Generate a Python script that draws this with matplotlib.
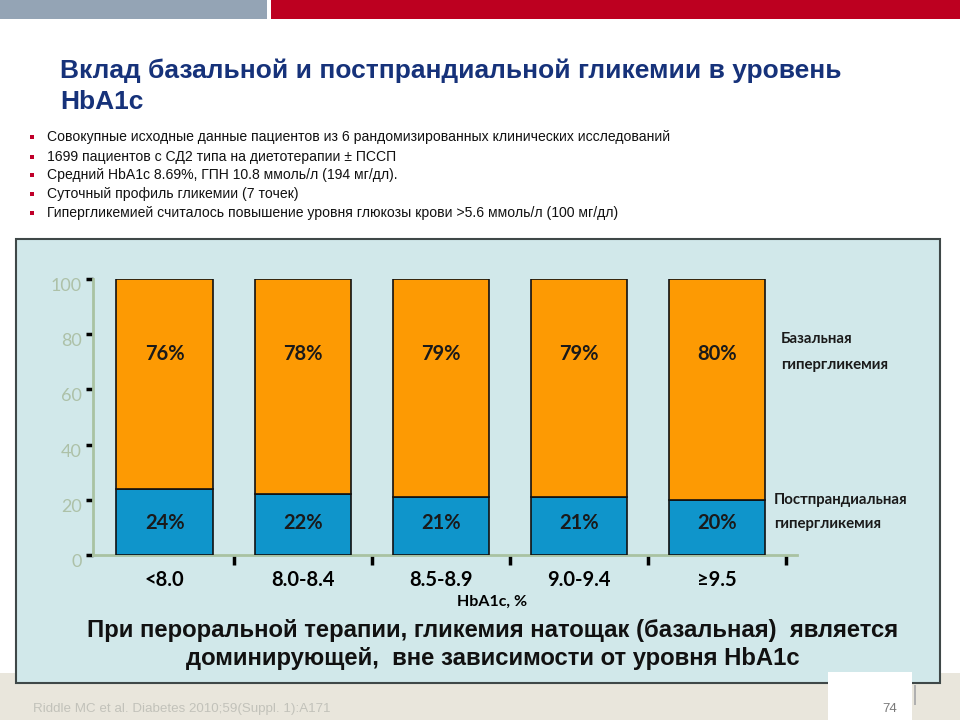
import matplotlib
matplotlib.use("Agg")
import matplotlib.pyplot as plt
from matplotlib.patches import Rectangle
from matplotlib.ticker import FixedLocator
from matplotlib.transforms import ScaledTranslation

SANS = 'Liberation Sans'
CAL = 'Lato'

# ---- data ----
categories = ['<8.0', '8.0-8.4', '8.5-8.9', '9.0-9.4', '≥9.5']
postprandial = [24, 22, 21, 21, 20]
basal = [76, 78, 79, 79, 80]
yticks = [0, 20, 40, 60, 80, 100]

title = "Вклад базальной и постпрандиальной гликемии в уровень\nHbA1c"
bullets = [
    "Совокупные исходные данные пациентов из 6 рандомизированных клинических исследований",
    "1699 пациентов с СД2 типа на диетотерапии ± ПССП",
    "Средний HbA1c 8.69%, ГПН 10.8 ммоль/л (194 мг/дл).",
    "Суточный профиль гликемии (7 точек)",
    "Гипергликемией считалось повышение уровня глюкозы крови >5.6 ммоль/л (100 мг/дл)",
]
conclusion = ["При пероральной терапии, гликемия натощак (базальная)  является",
              "доминирующей,  вне зависимости от уровня HbA1c"]
footer = "Riddle MC et al. Diabetes 2010;59(Suppl. 1):A171"
page = "74"

W, H = 960, 720
fig = plt.figure(figsize=(9.6, 7.2), dpi=100)
fig.patch.set_facecolor('white')

def fx(x): return x / W
def fy(y): return 1 - y / H

def frect(x0, y0, x1, y1, **kw):
    fig.patches.append(Rectangle((fx(x0), fy(y1)), fx(x1) - fx(x0), (y1 - y0) / H,
                                 transform=fig.transFigure, figure=fig, **kw))

# top bands
frect(0, 0, 267, 19, facecolor='#94a4b5', edgecolor='none')
frect(271, 0, 960, 19, facecolor='#bd0020', edgecolor='none')
# footer band
frect(0, 673, 960, 720, facecolor='#e9e6dc', edgecolor='none')
# chart box
frect(16, 239, 940, 683, facecolor='#d1e8ea', edgecolor='#3f4848', linewidth=1.5)
# white tab at bottom right
frect(828, 672, 912, 720, facecolor='white', edgecolor='none')
frect(914, 685, 916, 705, facecolor='#b0b0b0', edgecolor='none')

# title
fig.text(fx(60), fy(86), title, ha='left', va='center', fontsize=19, fontweight='bold',
         color='#16327a', family=SANS, linespacing=1.35)

# bullets
by = [137, 157, 175, 194, 213]
for y, t in zip(by, bullets):
    frect(30, y - 2, 34, y + 2, facecolor='#c0002a', edgecolor='none')
    fig.text(fx(47), fy(y), t, ha='left', va='center', fontsize=10.1, color='#111111',
             family=SANS)

# axes
ax = fig.add_axes([fx(93), fy(555), (797 - 93) / W, (555 - 279) / H])
ax.set_zorder(5)
ax.set_facecolor('none')
x = list(range(len(categories)))
ax.bar(x, postprandial, width=0.70, color='#0f95cb', edgecolor='#111111', linewidth=1.2, zorder=3)
ax.bar(x, basal, width=0.70, bottom=postprandial, color='#fd9a03', edgecolor='#111111', linewidth=1.2, zorder=3)
ax.set_ylim(0, 100)
ax.set_xlim(-0.52, 4.58)

for s in ['top', 'right']:
    ax.spines[s].set_visible(False)
for s in ['left', 'bottom']:
    ax.spines[s].set_color('#a9c2a2')
    ax.spines[s].set_linewidth(2)

ax.set_yticks(yticks)
ax.set_yticklabels([str(v) for v in yticks])
ax.tick_params(axis='y', direction='out', length=5, width=2.5, color='black',
               labelsize=13, labelcolor='#adc1a8', pad=3)
offset = ScaledTranslation(0, -4 / 72, fig.dpi_scale_trans)
for lab in ax.get_yticklabels():
    lab.set_family(CAL)
    lab.set_transform(lab.get_transform() + offset)

ax.set_xticks(x)
ax.set_xticklabels(categories)
ax.tick_params(axis='x', which='major', length=0, labelsize=14.5, pad=11)
for lab in ax.get_xticklabels():
    lab.set_family(CAL)
    lab.set_fontweight('bold')
ax.xaxis.set_minor_locator(FixedLocator([i + 0.5 for i in x]))
ax.tick_params(axis='x', which='minor', direction='out', length=7, width=2.5, color='black')

ax.set_xlabel('HbA1c, %', fontsize=11.5, fontweight='bold', family=CAL)
ax.xaxis.set_label_coords((492 - 93) / 704, -(595 - 555) / 276)

label_y_basal = 73
label_y_post = 11.5
for i in x:
    ax.text(i, label_y_basal, f"{basal[i]}%", ha='center', va='center',
            fontsize=14.5, fontweight='bold', color='#1a1a1a', family=CAL, zorder=4)
    ax.text(i, label_y_post, f"{postprandial[i]}%", ha='center', va='center',
            fontsize=14.5, fontweight='bold', color='#1a1a1a', family=CAL, zorder=4)

# side labels
for (xx, yy, t) in [(781, 339, 'Базальная'), (781, 365, 'гипергликемия'),
                    (774, 500, 'Постпрандиальная'), (774, 524, 'гипергликемия')]:
    fig.text(fx(xx), fy(yy), t, ha='left', va='center', fontsize=10.8, fontweight='bold',
             color='#1a1a1a', family=CAL)

# conclusion
for yy, t in zip([631, 658], conclusion):
    fig.text(fx(493), fy(yy), t, ha='center', va='center', fontsize=17.2, fontweight='bold',
             color='#111111', family=SANS)

# footer
fig.text(fx(33), fy(709), footer, ha='left', va='center', fontsize=9.6, color='#c2c2ba',
         family=SANS)
fig.text(fx(897), fy(709), page, ha='right', va='center', fontsize=9.5, color='#7a7a7a',
         family=SANS)

fig.savefig('out.png', dpi=100)
